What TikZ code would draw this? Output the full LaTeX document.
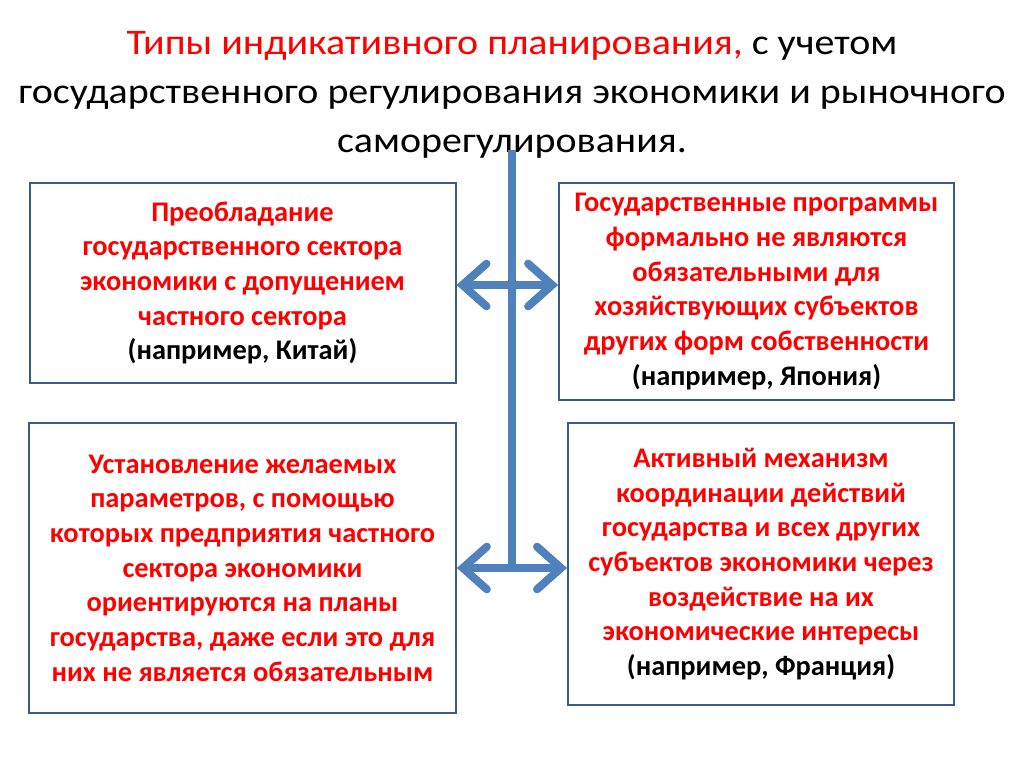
\documentclass[tikz,border=0pt]{standalone}
\usepackage{fontspec}
\setmainfont{Carlito}
\usetikzlibrary{arrows.meta,positioning}
\definecolor{boxblue}{RGB}{56,93,138}
\definecolor{lineblue}{RGB}{79,129,189}
\definecolor{txtred}{RGB}{255,0,0}
\newcommand{\wideline}[1]{\scalebox{1.11}[1]{#1}}

\begin{document}
\begin{tikzpicture}[x=0.75pt,y=-0.75pt]

    % стили
    \tikzstyle{infobox} = [rectangle, draw=boxblue, line width=1.5pt, fill=white, align=center, text=txtred, font=\fontsize{21.3}{26}\selectfont\bfseries]
    \tikzstyle{spine} = [lineblue, line width=6pt]
    \tikzstyle{biarrow} = [lineblue, line width=6pt, {Straight Barb[length=18pt,width=32pt,line cap=round]}-{Straight Barb[length=18pt,width=32pt,line cap=round]}]

    \useasboundingbox (0,0) rectangle (1024,767);

    % заголовок
    \node (title) at (512,95) [align=center, font=\fontsize{27}{36.5}\selectfont] {\wideline{\textcolor{txtred}{Типы индикативного планирования,} с учетом}\\\wideline{государственного регулирования экономики и рыночного}\\\wideline{саморегулирования.}};

    % блоки
    \node (china) at (242.5,283) [infobox, minimum width=319.5pt, minimum height=150pt] {Преобладание\\государственного сектора\\экономики с допущением\\частного сектора\\\textcolor{black}{(например, Китай)}};
    \node (japan) at (756.5,291.5) [infobox, minimum width=296pt, minimum height=163pt] {Государственные программы\\формально не являются\\обязательными для\\хозяйствующих субъектов\\других форм собственности\\\textcolor{black}{(например, Япония)}};
    \node (params) at (242.5,568) [infobox, minimum width=320pt, minimum height=217.5pt] {Установление желаемых\\параметров, с помощью\\которых предприятия частного\\сектора экономики\\ориентируются на планы\\государства, даже если это для\\них не является обязательным};
    \node (france) at (761,564) [infobox, minimum width=289.5pt, minimum height=211.5pt] {Активный механизм\\координации действий\\государства и всех других\\субъектов экономики через\\воздействие на их\\экономические интересы\\\textcolor{black}{(например, Франция)}};

    % связи
    \coordinate (top) at (512,150);
    \coordinate (j1) at (512,285);
    \coordinate (j2) at (512,568);
    \draw [spine] (top) -- ([yshift=-3pt]j2);
    \draw [biarrow] (china.east |- j1) -- (japan.west |- j1);
    \draw [biarrow] (params.east |- j2) -- (france.west |- j2);

\end{tikzpicture}
\end{document}
